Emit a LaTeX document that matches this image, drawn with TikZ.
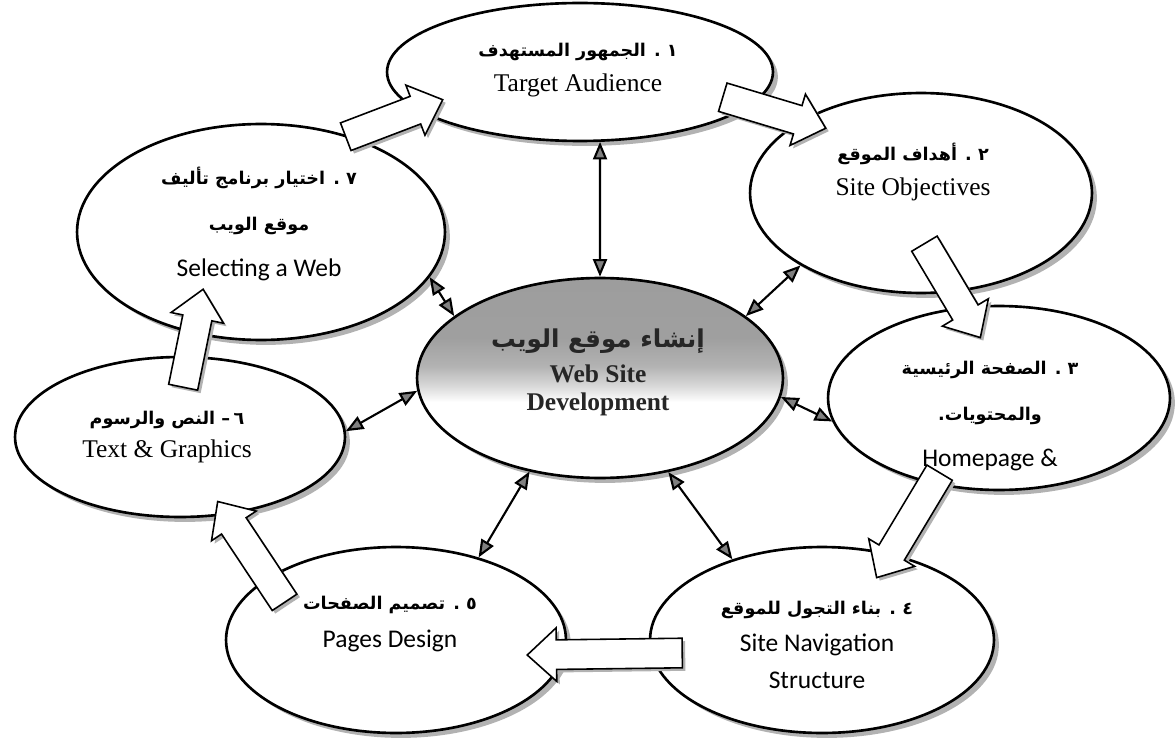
\documentclass[tikz,border=0pt]{standalone}
\usepackage{fontspec}
\setmainfont{Liberation Serif}
\newfontfamily\calibfont{Carlito}
\newfontfamily\arabicfont[Script=Arabic]{DejaVu Sans}
\usetikzlibrary{arrows.meta, positioning, shapes.geometric, shapes.arrows, shadows, calc}
\TeXXeTstate=1
\pgfdeclareverticalshading{webshade}{100bp}{color(0bp)=(white); color(44bp)=(white); color(48bp)=(gray!30); color(53bp)=(gray!60); color(60bp)=(gray!75); color(100bp)=(gray!80)}
\newcommand{\artext}{\arabicfont\bfseries\fontsize{10}{12}\selectfont}
\newcommand{\sanstext}{\calibfont\fontsize{14.5}{16}\selectfont}
\newcommand{\flowarrow}[2]{%
  \path let \p1=($(#2)-(#1)$), \n1={atan2(\y1,\x1)}, \n2={veclen(\x1,\y1)} in
    ($(#1)+(3,3)$) node[flow, fill=gray!60, draw=none, rotate=\n1, minimum height=\n2] {}
    (#1) node[flow, rotate=\n1, minimum height=\n2] {};}

\begin{document}
\begin{tikzpicture}[x=0.02cm, y=-0.02cm, >={Triangle[length=10pt, width=8pt, fill=gray]},
  bubble/.style={ellipse, draw, line width=1.5pt, fill=white, drop shadow={shadow xshift=2.8pt, shadow yshift=-2.8pt, fill=gray!60, opacity=1}},
  link/.style={<->, line width=1.2pt},
  flow/.style={single arrow, draw, fill=white, line width=0.9pt, anchor=tail, inner xsep=0pt, inner ysep=0.28cm, single arrow head extend=0.24cm, single arrow tip angle=85},
  every node/.style={font=\fontsize{14.5}{20}\selectfont}]
  \useasboundingbox (0,0) rectangle (1175,743);

  \node[bubble, minimum width=7.72cm, minimum height=2.76cm] (E1) at (580,72) {};
  \node[bubble, minimum width=6.84cm, minimum height=4.0cm] (E2) at (921,193) {};
  \node[bubble, minimum width=6.84cm, minimum height=3.68cm] (E3) at (999,398) {};
  \node[bubble, minimum width=6.88cm, minimum height=3.72cm] (E4) at (822,640) {};
  \node[bubble, minimum width=6.8cm, minimum height=3.72cm] (E5) at (396,640) {};
  \node[bubble, minimum width=6.6cm, minimum height=3.2cm] (E6) at (180,437) {};
  \node[bubble, minimum width=7.36cm, minimum height=4.32cm] (E7) at (261,232) {};
  \node[bubble, shade, shading=webshade, minimum width=7.32cm, minimum height=4.0cm] (C) at (600,378) {};

  \node[align=center] (T1) at (578,70) {{\artext\beginR ١ . الجمهور المستهدف\endR}\\Target Audience};
  \node[align=center] (T2) at (913,172) {{\artext\beginR ٢ . أهداف الموقع\endR}\\Site Objectives};
  \node[align=center, font=\fontsize{14.5}{26}\selectfont] (T3) at (990,416)
    {{\artext\beginR ٣ . الصفحة الرئيسية\endR}\\{\artext\beginR والمحتويات.\endR}\\{\sanstext Homepage \&}};
  \node[align=center, font=\fontsize{14.5}{21}\selectfont] (T4) at (817,645)
    {{\artext\beginR ٤ . بناء التجول للموقع\endR}\\{\sanstext Site Navigation}\\{\sanstext Structure}};
  \node[align=center, font=\fontsize{14.5}{22}\selectfont] (T5) at (390,624)
    {{\artext\beginR ٥ . تصميم الصفحات\endR}\\{\sanstext Pages Design}};
  \node[align=center, font=\fontsize{14.5}{19}\selectfont] (T6) at (167,437)
    {{\artext\beginR ٦\kern2pt– النص والرسوم\endR}\\Text \& Graphics};
  \node[align=center, font=\fontsize{14.5}{26}\selectfont] (T7) at (259,224)
    {{\artext\beginR ٧ . اختيار برنامج تأليف\endR}\\{\artext\beginR موقع الويب\endR}\\{\sanstext Selecting a Web}};
  \node[align=center, font=\fontsize{14.5}{16}\selectfont\bfseries, text=black!85] (TC) at (598,372)
    {{\arabicfont\fontsize{14}{16}\selectfont\beginR إنشاء موقع الويب\endR}\\[4pt]Web Site\\Development};

  \draw[link] (E1.286) -- (C.90); \draw[link] (E2.211) -- (C.23);
  \draw[link] (E3.188) -- (C.-6); \draw[link] (E4.138) -- (C.-54);
  \draw[link] (E5.45) -- (C.233); \draw[link] (E6.2) -- (C.184);
  \draw[link] (E7.-15) -- (C.157);

  \coordinate (a71) at (345,137); \coordinate (b71) at (442,100);
  \coordinate (a12) at (722,97);  \coordinate (b12) at (825,128);
  \coordinate (a23) at (924,243); \coordinate (b23) at (980,337);
  \coordinate (a34) at (940,472); \coordinate (b34) at (877,577);
  \coordinate (a45) at (683,653); \coordinate (b45) at (528,655);
  \coordinate (a56) at (285,603); \coordinate (b56) at (218,502);
  \coordinate (a67) at (183,388); \coordinate (b67) at (203,290);
  \flowarrow{a71}{b71} \flowarrow{a12}{b12} \flowarrow{a23}{b23}
  \flowarrow{a34}{b34} \flowarrow{a45}{b45} \flowarrow{a56}{b56}
  \flowarrow{a67}{b67}
\end{tikzpicture}
\end{document}
